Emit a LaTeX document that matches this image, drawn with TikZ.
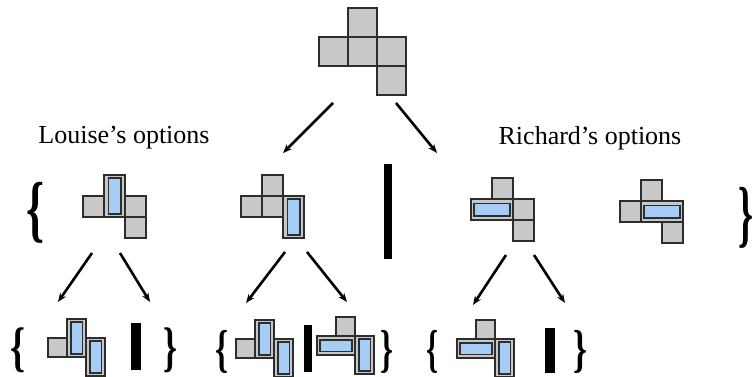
\documentclass[tikz,border=0pt]{standalone}
\usepackage{fontspec}
\setmainfont{Liberation Serif}
\usepackage{graphicx}
\usetikzlibrary{arrows.meta}

\definecolor{tilegrey}{RGB}{200,200,200}
\definecolor{domblue}{RGB}{165,205,245}
\definecolor{edge}{RGB}{45,45,45}

% grey cell: x0, y0, size, column, row
\newcommand{\tile}[5]{\draw[tilecell] ({#1+#4*#3},{#2+#5*#3}) rectangle ++(#3,#3);}
% vertical domino over two cells
\newcommand{\vdom}[5]{%
  \draw[tilecell] ({#1+#4*#3},{#2+#5*#3}) rectangle ++({#3},{2*#3});
  \draw[domino] ({#1+#4*#3+0.2*#3},{#2+#5*#3+0.15*#3}) rectangle ++({0.6*#3},{1.7*#3});}
% horizontal domino over two cells
\newcommand{\hdom}[5]{%
  \draw[tilecell] ({#1+#4*#3},{#2+#5*#3}) rectangle ++({2*#3},{#3});
  \draw[domino] ({#1+#4*#3+0.15*#3},{#2+#5*#3+0.2*#3}) rectangle ++({1.7*#3},{0.6*#3});}
\newcommand{\lbr}[2]{\resizebox*{#1pt}{#2pt}{\bfseries\{}}
\newcommand{\rbr}[2]{\resizebox*{#1pt}{#2pt}{\bfseries\}}}

\begin{document}
\begin{tikzpicture}[x=1pt,y=-1pt,
        tilecell/.style={draw=edge,fill=tilegrey,line width=1.4pt},
        domino/.style={draw=edge,fill=domblue,line width=1.4pt},
        bar/.style={fill=black},
        arr/.style={-{Stealth[length=9pt,width=7pt]},line width=2.6pt},
        label/.style={font=\fontsize{26}{26}\selectfont,inner sep=0pt},
        brace/.style={inner sep=0pt}]
\useasboundingbox (0,0) rectangle (754,377);

% the position
\tile{319}{8}{29}{1}{0} \tile{319}{8}{29}{0}{1} \tile{319}{8}{29}{1}{1}
\tile{319}{8}{29}{2}{1} \tile{319}{8}{29}{2}{2}

\node[label] (louise) at (124,138) {Louise’s options};
\node[label] (richard) at (590,138) {Richard’s options};

% first moves
\node[brace] (lb1) at (36,212.5) {\lbr{18}{61}};
\tile{83}{175}{21}{0}{1} \tile{83}{175}{21}{2}{1} \tile{83}{175}{21}{2}{2}
\vdom{83}{175}{21}{1}{0}

\tile{241}{175}{21}{1}{0} \tile{241}{175}{21}{0}{1} \tile{241}{175}{21}{1}{1}
\vdom{241}{175}{21}{2}{1}

\fill[bar] (384,164) rectangle (392,259);

\hdom{471}{178}{21}{0}{1}
\tile{471}{178}{21}{1}{0} \tile{471}{178}{21}{2}{1} \tile{471}{178}{21}{2}{2}

\tile{620}{180}{21}{1}{0} \tile{620}{180}{21}{0}{1} \tile{620}{180}{21}{2}{2}
\hdom{620}{180}{21}{1}{1}
\node[brace] (rb1) at (746,217.5) {\rbr{15}{61}};

% second moves
\node[brace] (lb2) at (18,350.5) {\lbr{15}{45}};
\tile{48}{319}{19}{0}{1} \vdom{48}{319}{19}{1}{0} \vdom{48}{319}{19}{2}{1}
\fill[bar] (131,323) rectangle (141,370);
\node[brace] (rb2) at (170,350.5) {\rbr{14}{45}};

\node[brace] (lb3) at (221.5,352) {\lbr{13}{43}};
\tile{236}{320}{19}{0}{1} \vdom{236}{320}{19}{1}{0} \vdom{236}{320}{19}{2}{1}
\fill[bar] (304,325) rectangle (312,372);
\tile{317}{317}{19}{1}{0} \hdom{317}{317}{19}{0}{1} \vdom{317}{317}{19}{2}{1}
\node[brace] (rb3) at (386.5,352) {\rbr{13}{43}};

\node[brace] (lb4) at (432.5,352) {\lbr{12}{43}};
\tile{457}{320}{19}{1}{0} \hdom{457}{320}{19}{0}{1} \vdom{457}{320}{19}{2}{1}
\fill[bar] (545,328) rectangle (555,373);
\node[brace] (rb4) at (580,352) {\rbr{14}{43}};

% arrow ends
\coordinate (top-l) at (333,103);  \coordinate (mid-n) at (283,153);
\coordinate (top-r) at (396,103);  \coordinate (ric-n) at (437,153);
\coordinate (lou-l) at (92,253);   \coordinate (a-n) at (58,302);
\coordinate (lou-r) at (120,253);  \coordinate (abar-n) at (150,302);
\coordinate (mid-l) at (285,252);  \coordinate (b-n) at (246,303);
\coordinate (mid-r) at (307,252);  \coordinate (c-n) at (347,302);
\coordinate (ric-l) at (506,255);  \coordinate (d-n) at (473,305);
\coordinate (ric-r) at (534,255);  \coordinate (dbar-n) at (565,303);

\draw[arr] (top-l) -- (mid-n);
\draw[arr] (top-r) -- (ric-n);
\draw[arr] (lou-l) -- (a-n);
\draw[arr] (lou-r) -- (abar-n);
\draw[arr] (mid-l) -- (b-n);
\draw[arr] (mid-r) -- (c-n);
\draw[arr] (ric-l) -- (d-n);
\draw[arr] (ric-r) -- (dbar-n);
\end{tikzpicture}
\end{document}
